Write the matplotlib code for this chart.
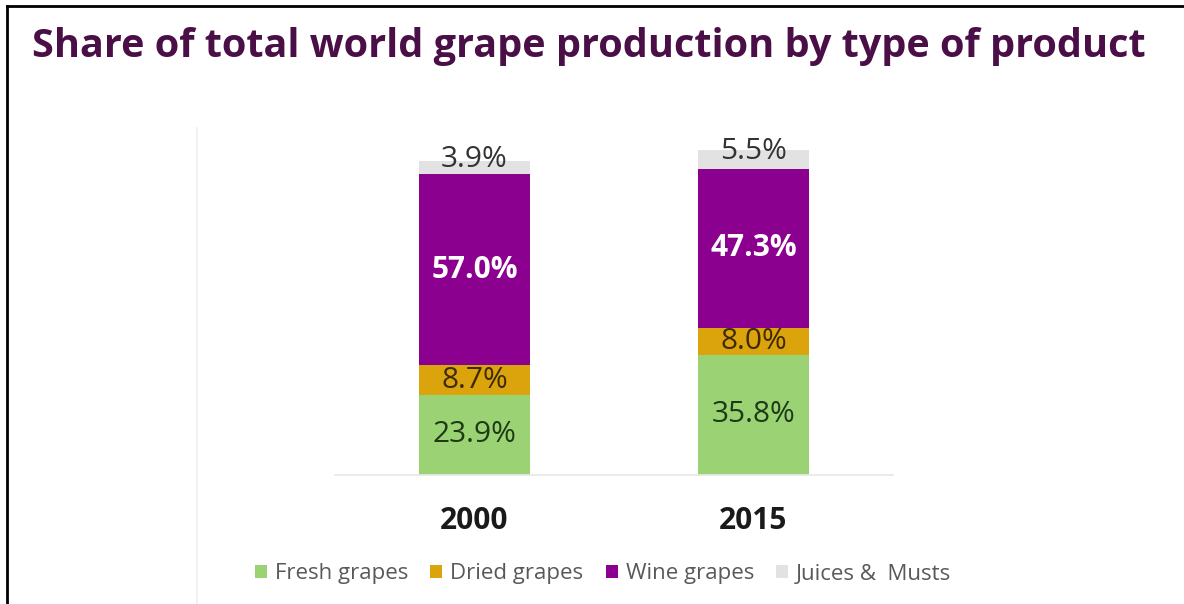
import matplotlib
matplotlib.use("Agg")
import matplotlib.pyplot as plt
import numpy as np
from matplotlib.patches import Patch
from matplotlib.lines import Line2D
from matplotlib import transforms

plt.rcParams['font.family'] = ['Open Sans', 'DejaVu Sans']

years = ["2000", "2015"]
series = ["Fresh grapes", "Dried grapes", "Wine grapes", "Juices &  Musts"]
fresh = [23.9, 35.8]
dried = [8.7, 8.0]
wine = [57.0, 47.3]
juices = [3.9, 5.5]

colors = ["#9bd274", "#dba40c", "#8c008f", "#e2e2e2"]
label_colors = ["#1d3a17", "#3f2a00", "#ffffff", "#333333"]
label_weights = ["normal", "normal", "bold", "normal"]

fig = plt.figure(figsize=(11.84, 6.04), dpi=100)
W, H = 1184, 604
ax = fig.add_axes([335 / W, (H - 475) / H, 558 / W, 336 / H])

x = np.arange(len(years))
data = [fresh, dried, wine, juices]
bottom = np.zeros(len(years))
for i, vals in enumerate(data):
    vals = np.array(vals)
    ax.bar(x, vals, width=0.4, bottom=bottom, color=colors[i], edgecolor='none', zorder=2)
    for j in range(len(years)):
        yc = bottom[j] + vals[j] / 2
        off = transforms.offset_copy(ax.transData, fig=fig, x=0, y=(8 if i == 3 else 0), units='dots')
        ax.text(x[j], yc, f"{vals[j]:.1f}%", ha='center', va='center',
                fontsize=21.5, color=label_colors[i], fontweight=label_weights[i],
                transform=off, zorder=3)
    bottom = bottom + vals

ax.set_xlim(-0.5, 1.5)
ax.set_ylim(0, 100)
ax.set_xticks(x)
ax.set_xticklabels(years, fontsize=21.5, fontweight='bold', color='#1a1a1a')
ax.tick_params(axis='x', length=0, pad=22)
ax.set_yticks([])
for s in ['top', 'right', 'left']:
    ax.spines[s].set_visible(False)
ax.spines['bottom'].set_color('#e8e8e8')
ax.spines['bottom'].set_linewidth(1.2)

fig.text(32 / W, 1 - 47 / H, "Share of total world grape production by type of product",
         fontsize=28.5, fontweight='bold', color='#4b0f47', ha='left', va='center')

handles = [Patch(facecolor=c, edgecolor='none') for c in colors]
fig.legend(handles, series, loc='center', bbox_to_anchor=(603 / W, 1 - 574 / H),
           ncol=4, frameon=False, fontsize=16, labelcolor='#595959',
           handlelength=0.55, handleheight=0.55, handletextpad=0.35, columnspacing=1.0)

# faint vertical line and frame borders
fig.add_artist(Line2D([197 / W, 197 / W], [0, 1 - 128 / H], color='#efefef', lw=1.2))
fig.add_artist(Line2D([7 / W, 7 / W], [0, 1 - 6 / H], color='black', lw=2))
fig.add_artist(Line2D([7 / W, 1], [1 - 6 / H, 1 - 6 / H], color='black', lw=2))

fig.savefig("out.png", dpi=100)
